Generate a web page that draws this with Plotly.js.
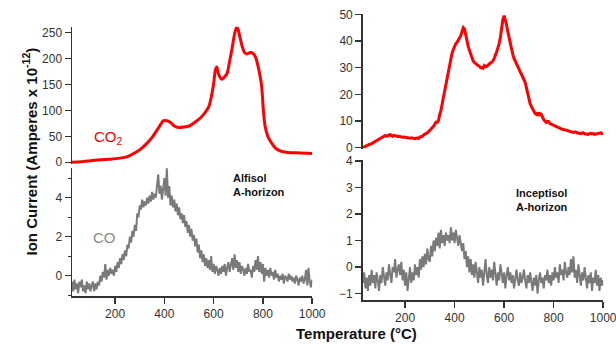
<!DOCTYPE html>
<html>
<head>
<meta charset="utf-8">
<script src="https://cdn.plot.ly/plotly-3.0.1.min.js"></script>
<style>html,body{margin:0;padding:0;background:#fff}#chart{width:616px;height:353px}</style>
</head>
<body>
<div id="chart"></div>
<script>
// Alfisol CO2 (smooth)
const alfCO2T = [25,60,100,140,180,220,250,275,300,330,350,370,385,395,410,425,440,460,480,500,520,545,565,580,590,600,607,613,620,633,645,655,665,675,685,693,698,705,715,725,735,748,760,770,778,785,795,802,809,820,830,850,870,900,950,1000];
const alfCO2V = [0,1,3,5,6,8,11,17,24,37,48,62,73,80,80,77,70,67,68,70,76,85,96,107,125,152,178,184,170,160,165,172,195,220,248,260,258,245,225,212,209,212,210,203,190,175,146,100,69,50,41,28,22,19,18,17];
// Alfisol CO (25..1000 step 5)
const alfCOStart = 25, alfCOStep = 5;
const alfCOV = [
-0.3,-0.8,-0.2,-0.7,-0.4,-0.9,-0.3,-0.6,-0.2,-0.8,
-0.5,-0.9,-0.3,-0.7,-0.4,-0.8,-0.5,-0.3,-0.8,-0.4,
-0.7,-0.3,-0.5,0.0,-0.3,0.2,-0.1,0.6,-0.2,0.3,
0.0,0.4,0.1,0.3,0.0,0.5,0.2,0.7,0.4,0.9,
0.6,1.1,0.8,1.3,1.0,1.6,1.4,2.0,1.7,2.3,
2.0,2.6,2.3,3.2,3.0,3.6,3.4,3.9,3.5,3.8,
3.6,4.0,3.7,4.1,3.8,4.3,3.9,4.2,4.0,4.8,
5.2,4.2,4.6,3.9,4.4,5.0,4.1,5.5,4.0,4.6,
3.6,4.1,3.5,3.9,3.3,3.7,3.1,3.5,2.9,3.2,
2.7,3.1,2.5,2.8,2.2,2.6,2.0,2.4,1.8,2.1,
1.5,1.9,1.2,1.6,0.9,1.3,0.7,1.1,0.5,0.9,
0.4,0.8,0.3,1.0,0.2,0.6,0.1,0.5,0.3,0.0,
0.4,0.1,0.5,0.2,0.6,0.0,0.4,0.7,0.2,0.5,
0.9,0.3,1.1,0.4,0.8,0.2,0.7,0.1,0.5,0.3,
0.0,0.4,0.1,0.6,0.2,0.3,-0.1,0.5,0.2,0.8,
0.3,1.0,0.2,0.7,0.1,0.6,-0.3,0.4,0.0,0.3,
-0.1,0.4,0.0,0.2,-0.2,0.3,-0.1,0.1,-0.3,0.0,
-0.2,0.1,-0.4,0.0,-0.1,-0.3,0.1,-0.2,0.0,-0.3,
-0.1,-0.4,0.0,-0.2,-0.5,-0.1,-0.3,0.0,-0.4,-0.2,
0.3,-0.5,0.4,-0.3,-0.6,-0.2];
// Inceptisol CO2 (30..1000 step 5)
const incCO2Start = 30, incCO2Step = 5;
const incCO2V = [
0.0,0.3,0.5,0.8,0.9,1.2,1.3,1.6,1.8,2.0,
2.3,2.6,2.9,3.2,3.5,3.7,4.0,4.4,4.6,4.3,
4.4,4.8,4.9,4.5,4.3,4.6,4.5,4.2,4.2,4.3,
4.1,4.0,3.9,4.0,3.8,3.7,3.7,3.6,3.5,3.6,
3.6,3.4,3.4,3.6,3.6,3.5,4.0,4.1,4.3,4.8,
5.0,5.2,5.6,6.0,6.5,6.8,7.3,8.0,8.8,9.6,
9.5,10.2,12.5,14.0,16.5,19.0,21.5,24.0,26.5,29.0,
31.5,34.0,35.5,36.8,38.0,39.0,39.5,40.2,41.0,42.0,
43.5,45.0,44.5,42.0,40.5,38.0,36.5,35.0,33.5,32.5,
32.0,31.5,31.0,30.8,30.5,30.0,30.0,29.8,30.8,30.4,
30.5,31.0,31.5,31.8,32.0,32.5,33.5,34.5,36.0,37.5,
39.0,41.5,45.0,48.0,49.5,48.0,46.0,43.5,41.0,39.5,
37.0,35.0,33.5,32.5,31.5,30.0,29.5,28.0,27.0,26.0,
25.5,24.5,22.5,20.0,18.0,16.5,15.5,14.5,14.0,12.8,
12.5,13.2,12.0,12.8,12.5,11.2,10.5,10.0,9.5,9.9,
9.8,9.0,8.8,8.4,8.2,8.0,7.8,7.5,7.3,7.2,
7.0,6.9,6.8,6.6,6.5,6.4,6.3,6.1,6.0,5.8,
5.7,5.9,5.9,5.6,5.5,5.3,5.3,5.5,5.6,5.2,
5.2,5.1,5.0,5.3,5.4,5.2,5.3,5.0,5.1,5.3,
5.5,5.4,5.6,5.3,5.4];
// Inceptisol CO (30..1000 step 5)
const incCOStart = 30, incCOStep = 5;
const incCOV = [
-0.6,-0.2,-0.8,-0.4,-0.9,-0.3,-0.7,-0.1,-0.6,-0.3,
-0.8,-0.2,-0.5,-0.9,-0.3,-0.6,0.0,-0.4,-0.7,-0.2,
-0.5,0.1,-0.3,-0.6,0.0,-0.2,0.3,-0.4,-0.1,0.1,
-0.3,0.2,-0.5,-0.1,-0.7,-0.2,-0.9,-0.4,0.0,-0.6,
-0.2,-0.5,0.1,-0.3,0.0,-0.4,0.3,-0.1,0.4,0.0,
0.5,0.1,0.7,0.3,0.2,0.8,0.4,1.0,0.6,1.1,
0.8,1.3,0.7,1.4,0.9,1.2,0.8,1.3,1.0,1.2,
0.9,1.5,1.0,1.3,0.9,1.4,1.1,0.8,1.2,0.9,
0.6,0.9,0.3,0.6,0.0,0.4,-0.2,0.3,-0.3,0.1,
-0.4,0.2,-0.3,-0.6,0.0,-0.4,-0.1,-0.7,-0.2,0.3,
-0.3,-0.6,0.0,-0.4,-0.1,-0.5,0.2,-0.3,-0.7,-0.2,
-0.5,0.1,-0.3,-0.6,-0.2,-0.8,-0.3,0.0,-0.5,-0.2,
-0.6,-0.3,-0.8,-0.4,-0.1,-0.5,-0.7,-0.2,-0.6,-0.4,
-0.1,-0.5,-0.8,-0.3,-0.6,-0.2,-0.5,-0.9,-0.4,-0.7,
-0.3,-1.0,-0.5,-0.2,-0.6,-0.4,-0.8,-0.3,-0.5,-0.1,
-0.6,-0.3,-0.7,-0.2,-0.5,0.0,-0.4,-0.2,-0.6,0.1,
-0.3,-0.1,-0.5,0.2,-0.2,-0.4,0.0,-0.3,0.3,-0.2,
0.4,-0.4,-0.1,-0.6,0.1,-0.3,-0.7,-0.2,-0.5,0.0,
-0.4,-0.8,-0.3,-0.6,-0.2,-0.9,-0.4,-0.6,-0.1,-0.7,
-0.3,-0.9,-0.4,-0.7,-0.5];

const xTicks = [200,400,600,800,1000];
const alfCO2Ticks = [0,50,100,150,200,250];
const alfCOTicks = [0,2,4];
const incCO2Ticks = [0,10,20,30,40,50];
const incCOTicks = [-1,0,1,2,3,4];

const W = 616, H = 353;
const fx = p => p / W;
const fy = p => 1 - p / H;
const RED = '#ff0000', GREY = '#7a7a7a', AX = '#333333';
const FONT = 'Liberation Sans, Arial, sans-serif';

const traces = [
  {x: alfCO2T, y: alfCO2V, xaxis: 'x2', yaxis: 'y2', mode: 'lines', line: {color: RED, width: 3, shape: 'spline', smoothing: 0.6}},
  {x0: alfCOStart, dx: alfCOStep, y: alfCOV, xaxis: 'x', yaxis: 'y', mode: 'lines', line: {color: GREY, width: 2}},
  {x0: incCO2Start, dx: incCO2Step, y: incCO2V, xaxis: 'x4', yaxis: 'y4', mode: 'lines', line: {color: RED, width: 3}},
  {x0: incCOStart, dx: incCOStep, y: incCOV, xaxis: 'x3', yaxis: 'y3', mode: 'lines', line: {color: GREY, width: 2}}
];

const tickFont = {family: FONT, size: 12, color: '#333'};
function xAxis(domain, range, show) {
  return {domain: domain, range: range, showgrid: false, zeroline: false,
    showline: show, linecolor: AX, linewidth: 1.5, ticks: show ? 'outside' : '', ticklen: 6, tickwidth: 1.5, tickcolor: AX,
    tickvals: xTicks, showticklabels: show, tickfont: tickFont, ticklabeloverflow: 'allow', fixedrange: true};
}
function yAxis(domain, range, tv, anchor, minor) {
  const a = {domain: domain, range: range, anchor: anchor, showgrid: false, zeroline: false,
    showline: true, linecolor: AX, linewidth: 1.5, ticks: 'outside', ticklen: 6, tickwidth: 1.5, tickcolor: AX,
    tickvals: tv, tickfont: tickFont, fixedrange: true};
  if (minor) a.minor = {dtick: minor, ticks: 'outside', ticklen: 3, tickcolor: AX, tickwidth: 1, showgrid: false};
  return a;
}

const layout = {
  width: W, height: H, margin: {l: 0, r: 0, t: 0, b: 0},
  paper_bgcolor: '#fff', plot_bgcolor: 'rgba(0,0,0,0)', showlegend: false,
  font: {family: FONT},
  xaxis: Object.assign(xAxis([fx(72), fx(312.3)], [25, 1000.5], true), {anchor: 'y'}),
  yaxis: yAxis([fy(296), fy(168)], [-1.04, 5.52], alfCOTicks, 'x', 1),
  xaxis2: Object.assign(xAxis([fx(72), fx(312.3)], [25, 1000.5], false), {anchor: 'y2'}),
  yaxis2: yAxis([fy(164), fy(26.7)], [-3.3, 261.6], alfCO2Ticks, 'x2'),
  xaxis3: Object.assign(xAxis([fx(362.7), fx(603.3)], [29, 1000.5], true), {anchor: 'y3'}),
  yaxis3: yAxis([fy(300), fy(160)], [-1.24, 4.03], incCOTicks, 'x3'),
  xaxis4: Object.assign(xAxis([fx(362.7), fx(603.3)], [29, 1000.5], false), {anchor: 'y4'}),
  yaxis4: yAxis([fy(148.5), fy(13.8)], [-0.3, 50.2], incCO2Ticks, 'x4'),
  annotations: [
    {xref: 'paper', yref: 'paper', x: fx(18), y: fy(152), text: 'Ion Current (Amperes x 10<sup>-12</sup>)', textangle: -90, showarrow: false,
      font: {family: FONT, size: 15, color: '#111', weight: 'bold'}},
    {xref: 'paper', yref: 'paper', x: fx(356), y: fy(344), text: 'Temperature (°C)', showarrow: false,
      font: {family: FONT, size: 15, color: '#111', weight: 'bold'}},
    {xref: 'paper', yref: 'paper', x: fx(92), y: fy(137), xanchor: 'left', text: 'CO<sub>2</sub>', showarrow: false,
      font: {family: FONT, size: 15, color: RED}},
    {xref: 'paper', yref: 'paper', x: fx(91), y: fy(248), xanchor: 'left', text: 'CO', showarrow: false,
      font: {family: FONT, size: 15, color: '#8a8a8a'}},
    {xref: 'paper', yref: 'paper', x: fx(231), y: fy(185), xanchor: 'left', align: 'left', text: 'Alfisol<br>A-horizon', showarrow: false,
      font: {family: FONT, size: 11, color: '#111', weight: 'bold'}},
    {xref: 'paper', yref: 'paper', x: fx(514), y: fy(200), xanchor: 'left', align: 'left', text: 'Inceptisol<br>A-horizon', showarrow: false,
      font: {family: FONT, size: 11, color: '#111', weight: 'bold'}}
  ]
};

Plotly.newPlot('chart', traces, layout, {staticPlot: true, displayModeBar: false});
</script>
</body>
</html>
